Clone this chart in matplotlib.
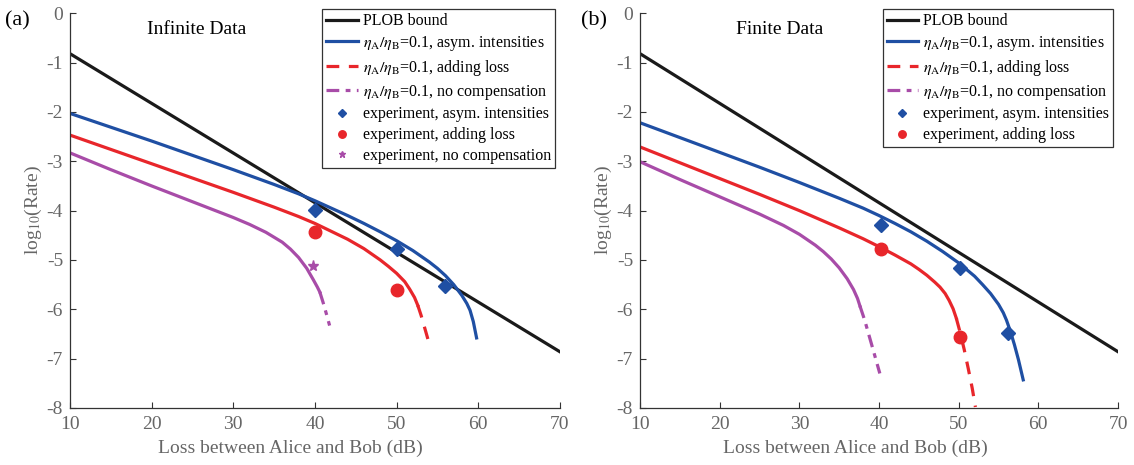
import matplotlib
matplotlib.use('Agg')
import matplotlib.pyplot as plt

plt.rcParams['font.family'] = ['Liberation Serif', 'DejaVu Serif']
plt.rcParams['mathtext.fontset'] = 'stix'
plt.rcParams['axes.unicode_minus'] = False

# PLOB bound (straight line in log scale)
plob_x = [10, 70]
plob_y = [-0.82, -6.86]

# panel (a) - infinite data
a_blue_x = [10, 15, 20, 25, 30, 35, 38, 40, 42, 44, 46, 48, 50, 52, 54, 55, 56, 57, 58, 58.6, 59, 59.4, 59.8]
a_blue_y = [-2.03, -2.31, -2.59, -2.88, -3.17, -3.47, -3.66, -3.8, -3.95, -4.1, -4.26, -4.43, -4.61,
            -4.81, -5.04, -5.17, -5.32, -5.5, -5.72, -5.88, -6.02, -6.25, -6.58]
a_red_x = [10, 15, 20, 25, 30, 35, 38, 40, 42, 44, 46, 48, 49, 50, 51, 51.6, 52.2, 52.6]
a_red_y = [-2.47, -2.76, -3.05, -3.34, -3.63, -3.93, -4.12, -4.26, -4.42, -4.58, -4.77, -5.0,
           -5.13, -5.27, -5.44, -5.59, -5.76, -5.92]
a_red_dash_x = [52.6, 53.0, 53.4, 53.9]
a_red_dash_y = [-5.92, -6.12, -6.35, -6.64]
a_pur_x = [10, 15, 20, 25, 30, 32, 34, 36, 37, 38, 39, 39.8, 40.3, 40.6]
a_pur_y = [-2.83, -3.17, -3.5, -3.82, -4.14, -4.28, -4.44, -4.64, -4.78, -4.95, -5.17, -5.4, -5.55, -5.65]
a_pur_dash_x = [40.6, 41.0, 41.4, 41.8]
a_pur_dash_y = [-5.65, -5.86, -6.09, -6.33]
a_exp_asym_x = [40, 50, 55.9]
a_exp_asym_y = [-3.99, -4.77, -5.53]
a_exp_loss_x = [40, 50]
a_exp_loss_y = [-4.43, -5.61]
a_exp_none_x = [39.8]
a_exp_none_y = [-5.12]

# panel (b) - finite data
b_blue_x = [10, 15, 20, 25, 30, 35, 38, 40, 42, 44, 46, 48, 50, 52, 53, 54, 55, 55.6, 56, 56.5, 57, 57.5, 58.1]
b_blue_y = [-2.22, -2.52, -2.82, -3.12, -3.43, -3.75, -3.95, -4.1, -4.26, -4.43, -4.62, -4.83, -5.06,
            -5.33, -5.5, -5.68, -5.9, -6.07, -6.22, -6.45, -6.72, -7.02, -7.43]
b_red_x = [10, 15, 20, 25, 30, 35, 38, 40, 42, 44, 45, 46, 47, 47.65, 48.3, 48.8, 49.3, 49.7]
b_red_y = [-2.71, -3.03, -3.35, -3.67, -4.0, -4.35, -4.57, -4.73, -4.9, -5.08, -5.19, -5.31, -5.45,
           -5.55, -5.68, -5.82, -5.99, -6.18]
b_red_dash_x = [49.7, 50.2, 50.7, 51.2, 51.7, 52.1]
b_red_dash_y = [-6.18, -6.48, -6.82, -7.2, -7.6, -7.98]
b_pur_x = [10, 15, 20, 25, 28, 30, 32, 33, 34, 35, 36, 36.8, 37.3, 37.6]
b_pur_y = [-3.01, -3.37, -3.72, -4.07, -4.3, -4.48, -4.7, -4.83, -4.98, -5.16, -5.38, -5.6, -5.78, -5.93]
b_pur_dash_x = [37.6, 38.2, 38.8, 39.4, 40.1]
b_pur_dash_y = [-5.93, -6.22, -6.56, -6.9, -7.3]
b_exp_asym_x = [40.3, 50.2, 56.2]
b_exp_asym_y = [-4.29, -5.17, -6.49]
b_exp_loss_x = [40.2, 50.2]
b_exp_loss_y = [-4.77, -6.56]

xticks = [10, 20, 30, 40, 50, 60, 70]
yticks = [0, -1, -2, -3, -4, -5, -6, -7, -8]

BLACK = '#1a1a1a'
BLUE = '#1f4fa3'
RED = '#e8262b'
PURPLE = '#a84ca8'
GRAY = '#666666'
LW = 2.3

lbl_blue = r'$\eta_{\rm A}/\eta_{\rm B}$=0.1, asym. intensities'
lbl_red = r'$\eta_{\rm A}/\eta_{\rm B}$=0.1, adding loss'
lbl_pur = r'$\eta_{\rm A}/\eta_{\rm B}$=0.1, no compensation'

fig = plt.figure(figsize=(11.34, 4.65), dpi=100)
ax_a = fig.add_axes([0.0617, 0.1226, 0.432, 0.849])
ax_b = fig.add_axes([0.5644, 0.1226, 0.4215, 0.849])


def style(ax):
    ax.set_xlim(10, 70)
    ax.set_ylim(-8, 0)
    ax.set_xticks(xticks)
    ax.set_yticks(yticks)
    ax.spines['top'].set_visible(False)
    ax.spines['right'].set_visible(False)
    for s in ('left', 'bottom'):
        ax.spines[s].set_color('#333333')
        ax.spines[s].set_linewidth(0.9)
    ax.tick_params(direction='in', length=4, labelsize=14, colors='#333333',
                   labelcolor=GRAY)
    ax.tick_params(axis='x', pad=6)
    ax.tick_params(axis='y', pad=5)
    ax.set_xlabel('Loss between Alice and Bob (dB)', fontsize=14, color=GRAY)
    ax.xaxis.set_label_coords(0.45, -0.08)
    ax.set_ylabel(r'log$_{10}$(Rate)', fontsize=14, color=GRAY, labelpad=2)


def curves(ax, bx, by, rx, ry, rdx, rdy, px, py, pdx, pdy):
    ax.plot(plob_x, plob_y, color=BLACK, lw=LW, label='PLOB bound')
    ax.plot(bx, by, color=BLUE, lw=LW, label=lbl_blue)
    ax.plot(rx, ry, color=RED, lw=LW)
    ax.plot(rdx, rdy, color=RED, lw=LW, ls=(0, (4, 3)), label=lbl_red)
    ax.plot(px, py, color=PURPLE, lw=LW)
    ax.plot(pdx, pdy, color=PURPLE, lw=LW, ls=(0, (4, 2, 1.5, 2)), label=lbl_pur)


# (a)
curves(ax_a, a_blue_x, a_blue_y, a_red_x, a_red_y, a_red_dash_x, a_red_dash_y,
       a_pur_x, a_pur_y, a_pur_dash_x, a_pur_dash_y)
ax_a.plot(a_exp_asym_x, a_exp_asym_y, 'D', color=BLUE, ms=7, ls='none',
          label='experiment, asym. intensities')
ax_a.plot(a_exp_loss_x, a_exp_loss_y, 'o', color=RED, ms=9, ls='none',
          label='experiment, adding loss')
ax_a.plot(a_exp_none_x, a_exp_none_y, '*', color=PURPLE, ms=8, ls='none',
          label='experiment, no compensation')
style(ax_a)

# (b)
curves(ax_b, b_blue_x, b_blue_y, b_red_x, b_red_y, b_red_dash_x, b_red_dash_y,
       b_pur_x, b_pur_y, b_pur_dash_x, b_pur_dash_y)
ax_b.plot(b_exp_asym_x, b_exp_asym_y, 'D', color=BLUE, ms=7, ls='none',
          label='experiment, asym. intensities')
ax_b.plot(b_exp_loss_x, b_exp_loss_y, 'o', color=RED, ms=9, ls='none',
          label='experiment, adding loss')
style(ax_b)

for ax in (ax_a, ax_b):
    leg = ax.legend(loc='upper right', fontsize=11.5, frameon=True, fancybox=False,
                    edgecolor='#333333', framealpha=1, handlelength=2.0,
                    handletextpad=0.3, labelspacing=0.3, borderpad=0.25,
                    markerscale=0.6, borderaxespad=0.0, bbox_to_anchor=(0.99, 1.01))
    leg.get_frame().set_linewidth(0.9)

fig.text(0.004, 0.945, '(a)', fontsize=16)
fig.text(0.512, 0.945, '(b)', fontsize=16)
ax_a.text(0.158, 0.98, 'Infinite Data', transform=ax_a.transAxes, fontsize=14, va='top')
ax_b.text(0.2, 0.98, 'Finite Data', transform=ax_b.transAxes, fontsize=14, va='top')

fig.savefig('out.png', dpi=100)
